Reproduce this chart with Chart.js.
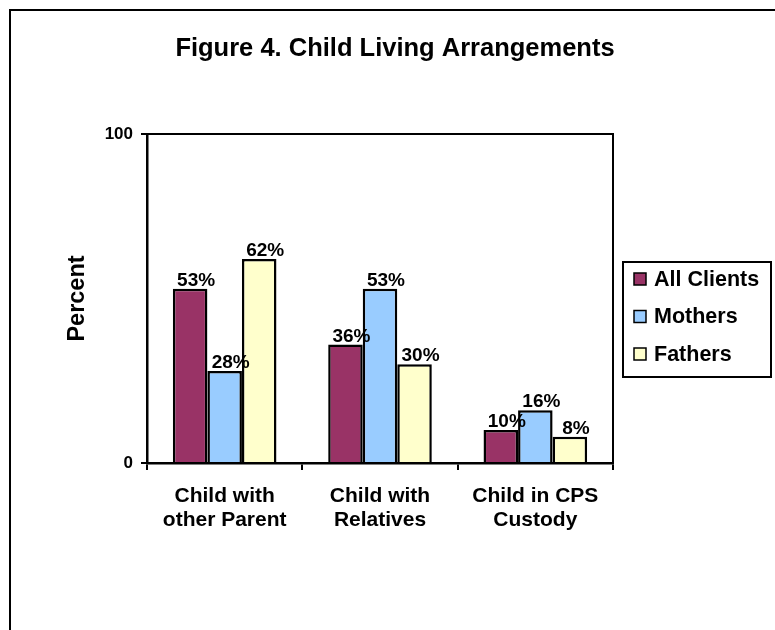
<!DOCTYPE html>
<html>
<head>
<meta charset="utf-8">
<script src="https://cdn.jsdelivr.net/npm/chart.js@4.4.1/dist/chart.umd.min.js"></script>
<style>
    html, body { margin: 0; padding: 0; background: #fff; }
    #wrap { width: 775px; height: 630px; position: relative; }
</style>
</head>
<body>
<div id="wrap"><canvas id="livingChart" width="775" height="630"></canvas></div>
<script>
const categories = [['Child with', 'other Parent'], ['Child with', 'Relatives'], ['Child in CPS', 'Custody']];
const allClients = [53, 36, 10];
const mothers = [28, 53, 16];
const fathers = [62, 30, 8];
const seriesNames = ['All Clients', 'Mothers', 'Fathers'];
const seriesColors = ['#993366', '#99CCFF', '#FFFFCC'];
const yTicks = [0, 100];

const FONT = 'Liberation Sans, Arial, sans-serif';

// page frame, title and the box round the plot
const framePlugin = {
    id: 'frame',
    beforeDraw(chart) {
        const { ctx } = chart;
        ctx.save();
        ctx.fillStyle = '#fff';
        ctx.fillRect(0, 0, chart.width, chart.height);
        ctx.strokeStyle = '#000';
        ctx.lineWidth = 2;
        ctx.strokeRect(10, 10, chart.width + 20, chart.height + 20);
        ctx.fillStyle = '#000';
        ctx.font = 'bold 25.5px ' + FONT;
        ctx.textAlign = 'center';
        ctx.textBaseline = 'middle';
        ctx.fillText('Figure 4. Child Living Arrangements', 395, 49);
        ctx.restore();
    },
    beforeDatasetsDraw(chart) {
        const { ctx, chartArea: a } = chart;
        ctx.save();
        ctx.strokeStyle = '#000';
        ctx.lineWidth = 2;
        ctx.beginPath();
        ctx.moveTo(a.left, a.top);
        ctx.lineTo(a.right, a.top);
        ctx.lineTo(a.right, a.bottom);
        ctx.stroke();
        ctx.restore();
    },
};

// value labels over each bar (sit a little right of centre, as in the original)
const valueLabels = {
    id: 'valueLabels',
    afterDatasetsDraw(chart) {
        const { ctx } = chart;
        ctx.save();
        ctx.fillStyle = '#000';
        ctx.font = 'bold 19px ' + FONT;
        ctx.textAlign = 'center';
        ctx.textBaseline = 'alphabetic';
        chart.data.datasets.forEach((ds, i) => {
            chart.getDatasetMeta(i).data.forEach((bar, j) => {
                ctx.fillText(ds.data[j] + '%', bar.x + 6, bar.y - 3);
            });
        });
        ctx.restore();
    },
};

// boxed legend to the right of the plot
const boxLegend = {
    id: 'boxLegend',
    afterDraw(chart) {
        const { ctx, chartArea: a } = chart;
        const left = a.right + 10;
        const top = 262;
        ctx.save();
        ctx.strokeStyle = '#000';
        ctx.lineWidth = 2;
        ctx.strokeRect(left, top, 148, 115);
        ctx.font = 'bold 21.5px ' + FONT;
        ctx.textAlign = 'left';
        ctx.textBaseline = 'middle';
        chart.data.datasets.forEach((ds, i) => {
            const y = top + 17 + i * 37.5;
            ctx.fillStyle = ds.backgroundColor;
            ctx.fillRect(left + 11, y - 6, 12, 12);
            ctx.lineWidth = 1.5;
            ctx.strokeRect(left + 11, y - 6, 12, 12);
            ctx.fillStyle = '#000';
            ctx.fillText(ds.label, left + 31, y + 1);
        });
        ctx.restore();
    },
};

const seriesData = [allClients, mothers, fathers];

new Chart(document.getElementById('livingChart'), {
    type: 'bar',
    data: {
        labels: categories,
        datasets: seriesNames.map((name, i) => ({
            label: name,
            data: seriesData[i],
            backgroundColor: seriesColors[i],
            borderColor: '#000',
            borderWidth: 2.5,
            categoryPercentage: 0.667,
            barPercentage: 1,
        })),
    },
    options: {
        responsive: false,
        animation: false,
        events: [],
        layout: {
            padding: { left: 0, top: 134, right: 162, bottom: 0 },
        },
        plugins: {
            legend: { display: false },
            title: { display: false },
            tooltip: { enabled: false },
        },
        scales: {
            x: {
                afterFit: s => { s.height = 167; },
                grid: {
                    offset: true,
                    drawOnChartArea: false,
                    color: '#000',
                    lineWidth: 2,
                    tickLength: 7,
                },
                border: { color: '#000', width: 2.5 },
                ticks: {
                    color: '#000',
                    padding: 14,
                    maxRotation: 0,
                    font: { family: FONT, size: 21, weight: 'bold', lineHeight: 1.15 },
                },
            },
            y: {
                min: 0,
                max: 100,
                afterFit: s => { s.width = 147; },
                afterBuildTicks: s => { s.ticks = yTicks.map(v => ({ value: v })); },
                grid: {
                    drawOnChartArea: false,
                    color: '#000',
                    lineWidth: 2,
                    tickLength: 6,
                },
                border: { color: '#000', width: 2.5 },
                ticks: {
                    color: '#000',
                    padding: 8,
                    font: { family: FONT, size: 17, weight: 'bold' },
                },
                title: {
                    display: true,
                    text: 'Percent',
                    color: '#000',
                    padding: { top: 63, bottom: 0 },
                    font: { family: FONT, size: 23.5, weight: 'bold' },
                },
            },
        },
    },
    plugins: [framePlugin, valueLabels, boxLegend],
});
</script>
</body>
</html>
